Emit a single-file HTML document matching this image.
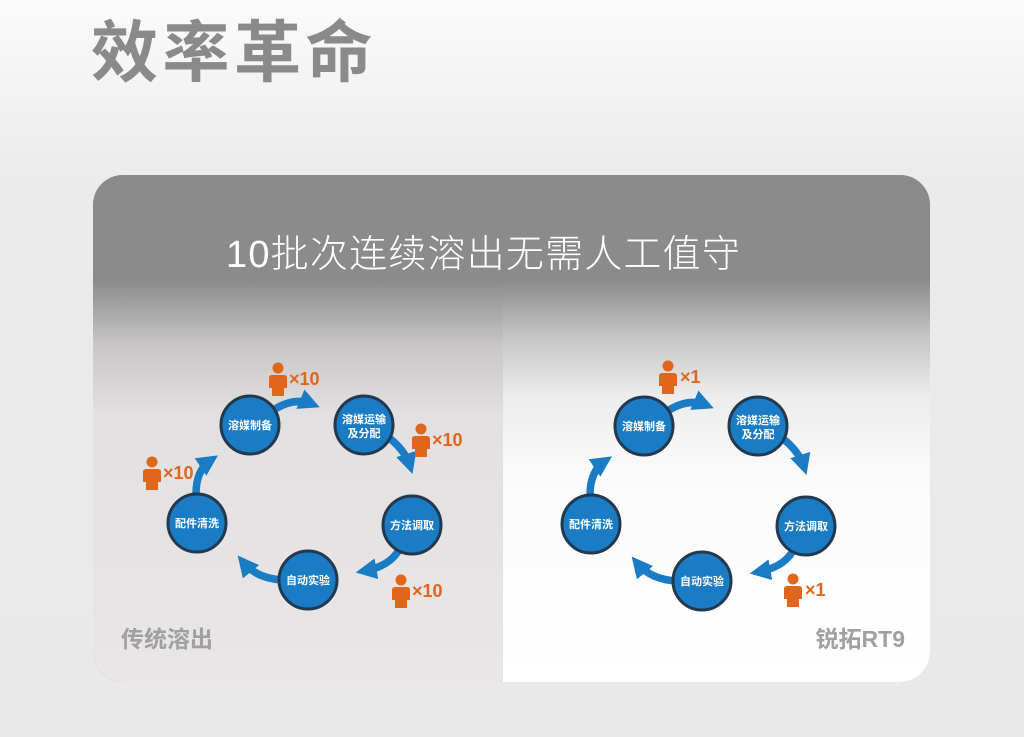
<!DOCTYPE html>
<html><head><meta charset="utf-8"><style>
html,body{margin:0;padding:0}
body{width:1024px;height:737px;overflow:hidden;background:linear-gradient(#fbfbfb 0,#ebebeb 180px,#e9e9e9 737px);font-family:"Liberation Sans","Noto Sans CJK SC",sans-serif;position:relative}
.title{position:absolute;left:91px;top:14px;font-size:67px;font-weight:bold;color:#8a8a8a;letter-spacing:4.5px;line-height:80px}
.card{position:absolute;left:93px;top:175px;width:837px;height:507px;border-radius:30px;overflow:hidden;background:#8b8b8b}
.lp{position:absolute;left:0;top:0;width:410px;height:507px;background:linear-gradient(#8b8b8b 0,#8b8b8b 105px,#c8c6c6 170px,#e2e0e0 240px,#e8e6e6 507px)}
.rp{position:absolute;left:410px;top:0;width:427px;height:507px;background:linear-gradient(#8b8b8b 0,#8b8b8b 105px,#c4c4c4 160px,#ececec 220px,#fbfbfb 300px,#fff 507px)}
.head{position:absolute;left:133px;top:48px;font-size:38px;color:#fff;letter-spacing:1.2px;white-space:nowrap;font-weight:300}
svg{position:absolute;left:0;top:0}
</style></head><body>
<div class="title">效率革命</div>
<div class="card">
<div class="lp"></div><div class="rp"></div>
<div class="head">10批次连续溶出无需人工值守</div>
</div>
<svg width="1024" height="737" viewBox="0 0 1024 737">
<defs>
<marker id="ah" viewBox="0 0 10 10" refX="6" refY="5" markerWidth="2.8" markerHeight="2.8" orient="auto"><path d="M0,0 L10,5 L0,10 z" fill="#1a7cc4"/></marker>
<g id="cyc">
<g fill="none" stroke="#1a7cc4" stroke-width="7.5" marker-end="url(#ah)">
<path d="M275,409 Q295,397 312,404"/>
<path d="M388,437 Q405,450 410,466"/>
<path d="M401,546 Q392,566 364,571"/>
<path d="M284,580 Q257,579 243,562"/>
<path d="M196,494 Q196,470 211,460"/>
</g>
<g fill="#1a7cc4" stroke="#22394f" stroke-width="3">
<circle cx="250" cy="425" r="29"/>
<circle cx="364" cy="425" r="29"/>
<circle cx="412" cy="525" r="29"/>
<circle cx="308" cy="580" r="29"/>
<circle cx="197" cy="523" r="29"/>
</g>
<g fill="#fff" font-size="11" font-weight="bold" text-anchor="middle">
<text x="250" y="429">溶媒制备</text>
<text x="364" y="423">溶媒运输</text>
<text x="364" y="437">及分配</text>
<text x="412" y="529">方法调取</text>
<text x="308" y="584">自动实验</text>
<text x="197" y="527">配件清洗</text>
</g>
</g>
<g id="p"><circle cx="0" cy="-11" r="5.5" fill="#e0661c"/><path d="M-6,-4 h12 q3,0 3,3 v10 h-3 v8 h-12 v-8 h-3 v-10 q0,-3 3,-3 z" fill="#e0661c"/></g>
</defs>
<use href="#cyc"/>
<use href="#cyc" transform="translate(394,1)"/>
<g fill="#e0661c" font-size="18" font-weight="bold">
<use href="#p" x="278" y="379"/><text x="289" y="385">×10</text>
<use href="#p" x="421" y="440"/><text x="432" y="446">×10</text>
<use href="#p" x="152" y="473"/><text x="163" y="479">×10</text>
<use href="#p" x="401" y="591"/><text x="412" y="597">×10</text>
<use href="#p" x="668" y="377"/><text x="680" y="383">×1</text>
<use href="#p" x="793" y="590"/><text x="805" y="596">×1</text>
</g>
<g fill="#a0a0a0" font-size="23" font-weight="bold">
<text x="121" y="647">传统溶出</text>
<text x="905" y="647" text-anchor="end">锐拓RT9</text>
</g>
</svg>
</body></html>
